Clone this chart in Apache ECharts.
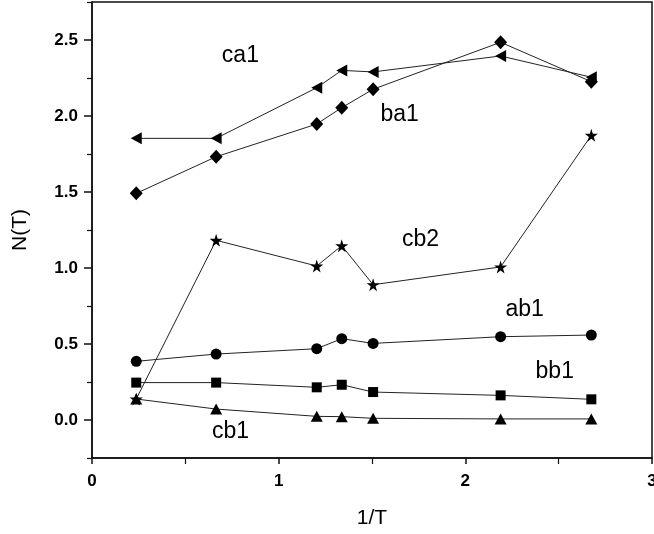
<!DOCTYPE html>
<html>
<head>
<meta charset="utf-8">
<script src="https://cdn.jsdelivr.net/npm/echarts@6/dist/echarts.min.js"></script>
<style>
  html, body { margin: 0; padding: 0; background: #fff; }
  #main { width: 654px; height: 534px; }
</style>
</head>
<body>
<div id="main"></div>
<script>
// x positions (1/T) shared by all curves
const xValues = [0.237, 0.665, 1.204, 1.338, 1.506, 2.189, 2.675];

const ca1 = [1.853, 1.853, 2.186, 2.300, 2.290, 2.395, 2.255];
const ba1 = [1.491, 1.732, 1.947, 2.055, 2.176, 2.485, 2.226];
const cb2 = [0.138, 1.182, 1.013, 1.147, 0.890, 1.007, 1.873];
const ab1 = [0.386, 0.434, 0.469, 0.535, 0.504, 0.548, 0.559];
const bb1 = [0.246, 0.246, 0.215, 0.232, 0.184, 0.162, 0.136];
const cb1 = [0.138, 0.072, 0.024, 0.022, 0.011, 0.007, 0.007];

// curve names and where they are written (data coords)
const labelNames = ['ca1', 'ba1', 'cb2', 'ab1', 'bb1', 'cb1'];
const labelX = [0.795, 1.648, 1.76, 2.318, 2.479, 0.742];
const labelY = [2.40, 2.007, 1.184, 0.724, 0.316, -0.079];

const yTickLabels = [0, 0.5, 1.0, 1.5, 2.0, 2.5];
const yMinorTicks = [-0.25, 0.25, 0.75, 1.25, 1.75, 2.25, 2.75];

const starPath = 'path://M50,0L61,35L98,35L68,57L79,91L50,70L21,91L32,57L2,35L39,35Z';
const leftTriPath = 'path://M0,50L100,0L100,100Z';

const chart = echarts.init(document.getElementById('main'));

function curve(name, values, symbol, size) {
  return {
    name: name,
    type: 'line',
    data: xValues.map((x, i) => [x, values[i]]),
    symbol: symbol,
    symbolSize: size,
    showAllSymbol: true,
    lineStyle: { color: '#222', width: 1 },
    itemStyle: { color: '#000' },
    emphasis: { disabled: true },
    animation: false
  };
}

const axisFont = { fontFamily: 'Liberation Sans', fontWeight: 'bold', fontSize: 17, color: '#000' };

chart.setOption({
  animation: false,
  grid: {
    left: 92, right: 2, top: 2, bottom: 76,
    outerBoundsMode: 'none', containLabel: false,
    show: true, borderColor: '#111', borderWidth: 1.5
  },
  xAxis: {
    type: 'value', min: 0, max: 3, interval: 1,
    axisLine: { onZero: false, lineStyle: { color: '#111', width: 1.5 } },
    axisTick: { length: 6, lineStyle: { color: '#111', width: 1.5 } },
    minorTick: { show: true, splitNumber: 2, length: 6, lineStyle: { color: '#111', width: 1.2 } },
    splitLine: { show: false },
    axisLabel: Object.assign({ margin: 15 }, axisFont),
    name: '1/T', nameLocation: 'middle', nameGap: 50,
    nameTextStyle: { fontFamily: 'Liberation Sans', fontSize: 21, color: '#000' }
  },
  yAxis: [{
    type: 'value', min: -0.25, max: 2.75,
    axisLine: { show: true, onZero: false, lineStyle: { color: '#111', width: 1.5 } },
    axisTick: { customValues: yTickLabels, length: 8, lineStyle: { color: '#111', width: 1.5 } },
    splitLine: { show: false },
    axisLabel: Object.assign({
      customValues: yTickLabels, margin: 14,
      formatter: v => v.toFixed(1)
    }, axisFont),
    name: 'N(T)', nameLocation: 'middle', nameGap: 61, nameRotate: 90,
    nameTextStyle: { fontFamily: 'Liberation Sans', fontSize: 21, color: '#000' }
  }, {
    type: 'value', min: -0.25, max: 2.75, position: 'left',
    axisLine: { show: false },
    axisTick: { customValues: yMinorTicks, length: 5, lineStyle: { color: '#111', width: 1.2 } },
    axisLabel: { show: false },
    splitLine: { show: false }
  }],
  series: [
    curve('ca1', ca1, leftTriPath, [11, 12]),
    curve('ba1', ba1, 'diamond', [13, 14]),
    curve('ab1', ab1, 'circle', 11),
    curve('bb1', bb1, 'rect', 10),
    curve('cb1', cb1, 'triangle', [12, 11]),
    curve('cb2', cb2, starPath, 13),
    {
      type: 'scatter',
      data: labelNames.map((n, i) => [labelX[i], labelY[i], n]),
      symbolSize: 1,
      itemStyle: { opacity: 0 },
      silent: true,
      label: {
        show: true, position: 'inside',
        formatter: p => p.value[2],
        fontFamily: 'Liberation Sans',
        fontSize: 23, color: '#000', opacity: 1
      }
    }
  ]
});
</script>
</body>
</html>
